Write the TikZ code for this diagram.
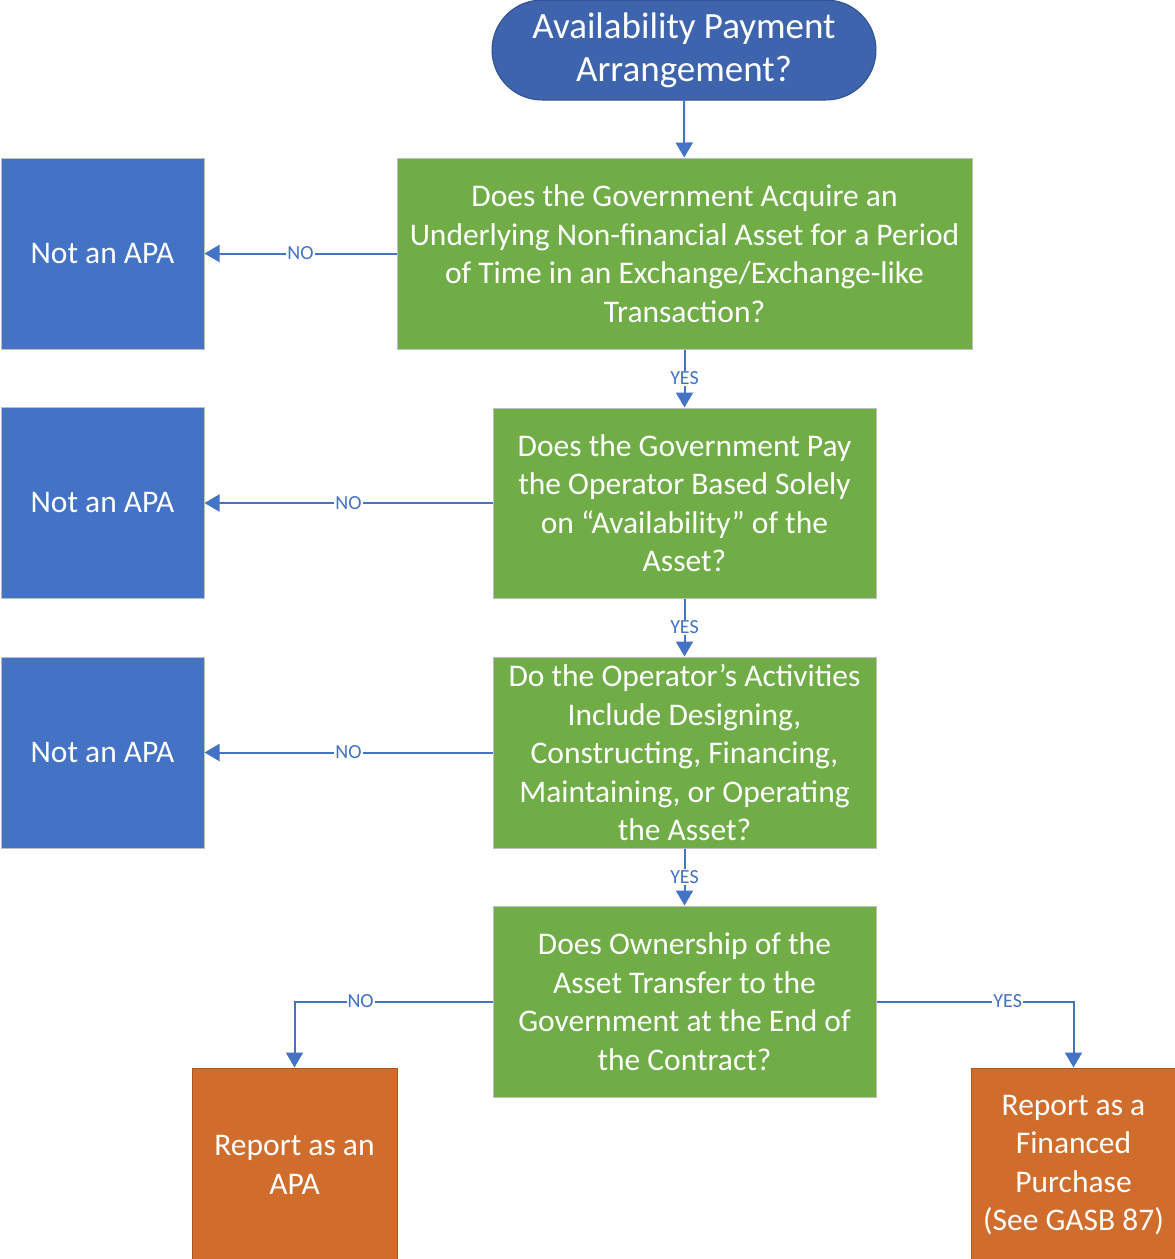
\documentclass[tikz,border=0pt]{standalone}
\usepackage{fontspec}
\setmainfont{Carlito}
\usetikzlibrary{arrows.meta}
\definecolor{gfill}{HTML}{70AD47}
\definecolor{bfill}{HTML}{4472C4}
\definecolor{tfill}{HTML}{3F64AE}
\definecolor{tdraw}{HTML}{2F4F8F}
\definecolor{ofill}{HTML}{D06C2C}
\definecolor{odraw}{HTML}{B0561C}
\definecolor{arrowc}{HTML}{4472C4}
\begin{document}
\begin{tikzpicture}[x=1pt,y=-1pt,
  box/.style={line width=1pt, text=white, align=center, inner sep=0pt,
    font=\fontsize{31.5}{38.5}\selectfont},
  gbox/.style={box, fill=gfill, draw=black!25},
  bbox/.style={box, fill=bfill, draw=black!25, minimum width=203pt, minimum height=191pt},
  obox/.style={box, fill=ofill, draw=odraw, minimum width=205pt, minimum height=194pt},
  term/.style={box, fill=tfill, draw=tdraw, minimum width=384pt, minimum height=100pt, rounded corners=50pt,
    font=\fontsize{37}{43}\selectfont},
  conn/.style={draw=arrowc, line width=2pt, -{Triangle[width=17pt,length=15pt]}},
  lbl/.style={fill=white, text=arrowc, inner sep=1pt, font=\fontsize{20}{22}\selectfont}
]
\clip (0,0) rectangle (1175,1259);
\node[term] (start) at (684,50) {Availability Payment\\Arrangement?};
\node[gbox, minimum width=575pt, minimum height=191pt] (q1) at (684.5,253.5)
  {Does the Government Acquire an\\Underlying Non-financial Asset for a Period\\of Time in an Exchange/Exchange-like\\Transaction?};
\node[gbox, minimum width=383pt, minimum height=190pt] (q2) at (684.5,503)
  {Does the Government Pay\\the Operator Based Solely\\on “Availability” of the\\Asset?};
\node[gbox, minimum width=383pt, minimum height=191pt] (q3) at (684.5,752.5)
  {Do the Operator’s Activities\\Include Designing,\\Constructing, Financing,\\Maintaining, or Operating\\the Asset?};
\node[gbox, minimum width=383pt, minimum height=191pt] (q4) at (684.5,1001.5)
  {Does Ownership of the\\Asset Transfer to the\\Government at the End of\\the Contract?};
\node[bbox] (n1) at (102.5,253.5) {Not an APA};
\node[bbox] (n2) at (102.5,503) {Not an APA};
\node[bbox] (n3) at (102.5,752.5) {Not an APA};
\node[obox] (r1) at (294.5,1165) {Report as an\\APA};
\node[obox] (r2) at (1073.5,1165) {Report as a\\Financed\\Purchase\\(See GASB 87)};

\draw[conn] (start) -- (q1);
\draw[conn] (q1) -- node[lbl] {YES} (q2);
\draw[conn] (q2) -- node[lbl] {YES} (q3);
\draw[conn] (q3) -- node[lbl] {YES} (q4);
\draw[conn] (q1) -- node[lbl] {NO} (n1);
\draw[conn] (q2) -- node[lbl] {NO} (n2);
\draw[conn] (q3) -- node[lbl] {NO} (n3);
\draw[conn] (q4.west) -| node[lbl, pos=0.333] {NO} (r1.north);
\draw[conn] (q4.east) -| node[lbl, pos=0.333] {YES} (r2.north);
\end{tikzpicture}
\end{document}
